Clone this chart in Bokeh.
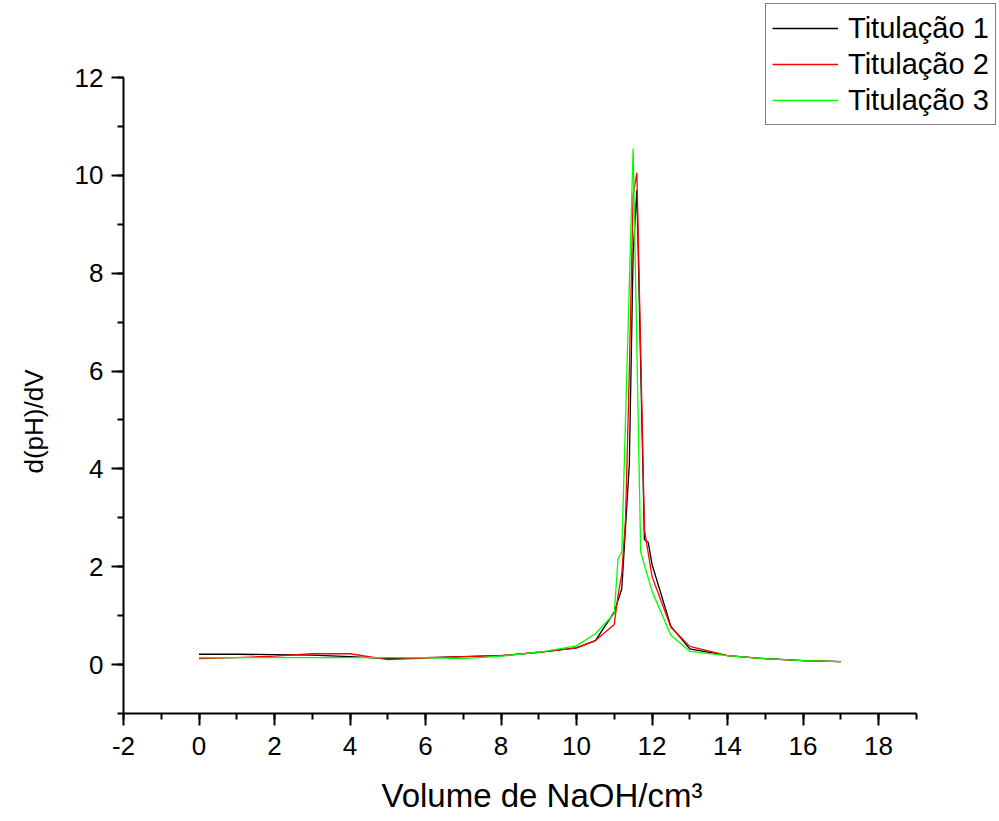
from math import pi
from bokeh.plotting import figure
from bokeh.models import (Range1d, SingleIntervalTicker, Legend, LegendItem, Label,
                          LinearAxis, PrintfTickFormatter)
from bokeh.embed import file_html
from bokeh.resources import INLINE

# Titulação 1
vol_1 = [0, 1, 2, 3, 4, 5, 6, 7, 8, 9, 10, 10.5, 11, 11.2, 11.4, 11.5, 11.6, 11.8, 11.9, 12, 12.5, 13, 14, 15, 16, 17]
dph_1 = [0.21, 0.21, 0.20, 0.19, 0.16, 0.12, 0.14, 0.16, 0.18, 0.25, 0.34, 0.49, 1.07, 1.55, 4.1, 8.4, 9.7, 2.55, 2.5, 2.05, 0.78, 0.32, 0.18, 0.12, 0.08, 0.06]

# Titulação 2
vol_2 = [0, 1, 2, 3, 4, 5, 6, 7, 8, 9, 10, 10.5, 11, 11.1, 11.2, 11.3, 11.4, 11.5, 11.6, 11.8, 12, 12.5, 13, 14, 15, 16, 17]
dph_2 = [0.12, 0.14, 0.17, 0.22, 0.22, 0.10, 0.13, 0.16, 0.18, 0.25, 0.34, 0.49, 0.82, 1.41, 1.86, 3.0, 6.0, 9.6, 10.05, 2.75, 1.8, 0.76, 0.37, 0.18, 0.12, 0.08, 0.06]

# Titulação 3
vol_3 = [0, 1, 2, 3, 4, 5, 6, 7, 8, 9, 10, 10.5, 11, 11.1, 11.2, 11.5, 11.7, 12, 12.5, 13, 14, 15, 16, 17]
dph_3 = [0.14, 0.14, 0.14, 0.14, 0.14, 0.14, 0.14, 0.12, 0.17, 0.25, 0.38, 0.63, 1.04, 2.16, 2.3, 10.55, 2.3, 1.5, 0.6, 0.27, 0.18, 0.12, 0.08, 0.06]

series_names = ["Titulação 1", "Titulação 2", "Titulação 3"]
series_colors = ["#000000", "#FF0000", "#00FF00"]

x_title = "Volume de NaOH/cm³"
y_title = "d(pH)/dV"

x_axis_bounds = (-2, 19)
y_axis_bounds = (-1, 12)

FONT = "Liberation Sans"
W, H = 999, 821

# pixel geometry of the reference axes (x=-2 at 123px, x=18 at 878px; y=12 at 77px, y=0 at 664px)
px_per_x = (878 - 123) / 20.0
x0_px = 123 + 2 * px_per_x
px_per_y = (664 - 77) / 12.0
y0_px = 664
x_start = -x0_px / px_per_x
x_end = (W - x0_px) / px_per_x
y_end = y0_px / px_per_y
y_start = -(H - y0_px) / px_per_y

p = figure(width=W, height=H, output_backend="svg", toolbar_location=None,
           x_range=Range1d(x_start, x_end), y_range=Range1d(y_start, y_end),
           x_axis_location=None, y_axis_location=None, min_border=0)
p.outline_line_color = None
p.xgrid.visible = False
p.ygrid.visible = False
p.background_fill_color = "white"
p.border_fill_color = "white"

xaxis = LinearAxis(fixed_location=y_axis_bounds[0], bounds=x_axis_bounds,
                   ticker=SingleIntervalTicker(interval=2, num_minor_ticks=2),
                   formatter=PrintfTickFormatter(format="%d"))
yaxis = LinearAxis(fixed_location=x_axis_bounds[0], bounds=y_axis_bounds,
                   ticker=SingleIntervalTicker(interval=2, num_minor_ticks=2),
                   formatter=PrintfTickFormatter(format="%d"))
for ax in (xaxis, yaxis):
    ax.major_tick_out = 12
    ax.major_tick_in = 0
    ax.minor_tick_out = 6
    ax.minor_tick_in = 0
    ax.axis_line_width = 2
    ax.major_tick_line_width = 2
    ax.minor_tick_line_width = 2
    ax.axis_line_color = "black"
    ax.major_tick_line_color = "black"
    ax.minor_tick_line_color = "black"
    ax.major_label_text_font = FONT
    ax.major_label_text_font_size = "26px"
    ax.major_label_text_color = "black"
xaxis.major_label_standoff = 12
yaxis.major_label_standoff = 8
p.add_layout(xaxis, "below")
p.add_layout(yaxis, "left")

renderers = []
for xs, ys, c in ((vol_1, dph_1, series_colors[0]),
                  (vol_2, dph_2, series_colors[1]),
                  (vol_3, dph_3, series_colors[2])):
    renderers.append(p.line(xs, ys, line_color=c, line_width=1.3))

legend = Legend(items=[LegendItem(label=n, renderers=[r]) for n, r in zip(series_names, renderers)],
                location=(765, H - 125), padding=6, spacing=0, margin=0,
                glyph_width=66, glyph_height=36, label_height=36, label_standoff=10,
                label_text_font=FONT, label_text_font_size="29px", label_text_color="black",
                border_line_color="black", border_line_width=1, background_fill_color="white",
                background_fill_alpha=1.0)
p.add_layout(legend)

p.add_layout(Label(x=381, y=H - 795, x_units="screen", y_units="screen", text=x_title,
                   text_font=FONT, text_font_size="33px", text_color="black",
                   text_align="left", text_baseline="middle"))
p.add_layout(Label(x=33, y=H - 421, x_units="screen", y_units="screen", text=y_title, angle=pi / 2,
                   text_font=FONT, text_font_size="26px", text_color="black",
                   text_align="center", text_baseline="middle"))

open("out.html", "w").write(file_html(p, INLINE))
